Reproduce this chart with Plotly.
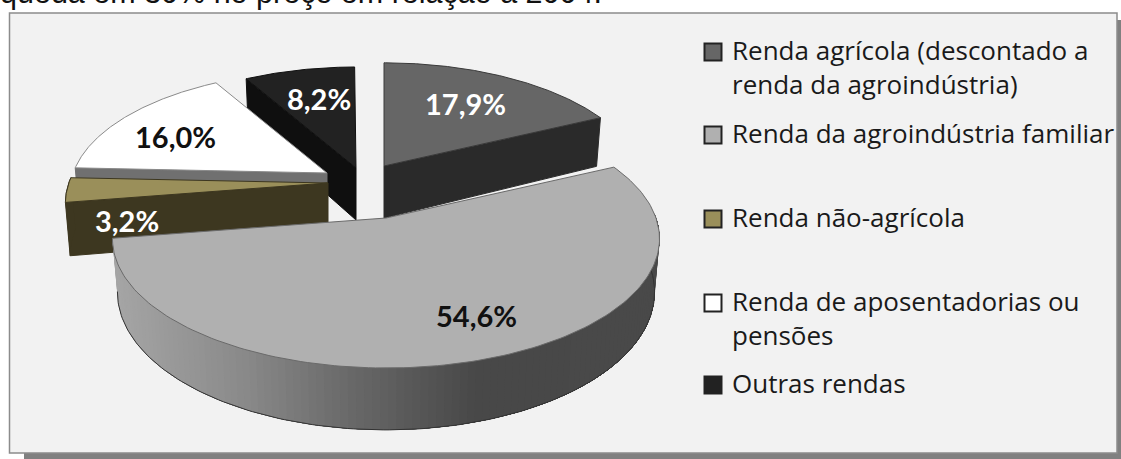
import numpy as np
import plotly.graph_objects as go

# Income shares, clockwise from twelve o'clock
categories = [
    "Renda agrícola (descontado a<br>renda da agroindústria)",
    "Renda da agroindústria familiar",
    "Renda não-agrícola",
    "Renda de aposentadorias ou<br>pensões",
    "Outras rendas",
]
shares = [17.9, 54.6, 3.2, 16.0, 8.2]

top_colors = ["#666666", "#b0b0b0", "#9a8f5a", "#ffffff", "#222222"]
wall_colors = ["#2a2a2a", None, "#3d3720", "#707070", "#0f0f0f"]
edge_colors = ["#3a3a3a", "#6a6a6a", "#3d3720", "#8a8a8a", "#111111"]
label_colors = ["white", "#111111", "white", "#111111", "white"]

# Exploded hub of each slice and its radius factor, in drawing units
hub_x = [384, 386, 328, 327, 356]
hub_y = [166, 218, 183, 173, 168]
radius_factor = [0.95, 1.0, 0.96, 0.94, 0.93]
label_x = [465, 476, 127, 175, 319]
label_y = [103, 315, 220, 136, 98]
legend_y = [52, 135, 219, 303, 385]

# Tilted-disc projection parameters
SX, SY, PERSP, DEPTH, BOTTOM_SHRINK = 270, 126, 0.16, 52, 0.018


def project(theta, idx, z=0.0):
    """Map a rim angle (degrees, clockwise from the back) to drawing units."""
    t = np.radians(theta)
    f = radius_factor[idx]
    s = 1 / (1 + PERSP * np.cos(t))
    x = f * SX * np.sin(t) * s * (1 - BOTTOM_SHRINK * z)
    y = -f * SY * np.cos(t) * s + DEPTH * s * z
    return hub_x[idx] + x, hub_y[idx] + y


def hub_point(idx, z=0.0):
    return hub_x[idx], hub_y[idx] + DEPTH * z


def polygon(xs, ys, fill, line=None, width=1.0):
    return go.Scatter(
        x=list(xs), y=list(ys), mode="lines", fill="toself", fillcolor=fill,
        line=dict(color=line or fill, width=width),
        hoverinfo="skip", showlegend=False,
    )


def radial_wall(angle, idx):
    hx0, hy0 = hub_point(idx, 0)
    hx1, hy1 = hub_point(idx, 1)
    rx0, ry0 = project(angle, idx, 0)
    rx1, ry1 = project(angle, idx, 1)
    return polygon([hx0, rx0, rx1, hx1, hx0], [hy0, ry0, ry1, hy1, hy0], wall_colors[idx])


def top_face(a0, a1, idx, width=1.0):
    th = np.linspace(a0, a1, 160)
    x, y = project(th, idx)
    hx, hy = hub_point(idx)
    return polygon(np.r_[hx, x, hx], np.r_[hy, y, hy], top_colors[idx], edge_colors[idx], width)


def wall_gray(x):
    # Cylinder shading of the big slice, light on the left, dark on the right
    return int(np.interp(x, [113, 243, 347, 477, 660], [166, 138, 106, 72, 74]))


bounds = np.r_[0, np.cumsum(shares)] * 3.6
fig = go.Figure()

# Frame drop shadow, panel and hairline border are layout shapes
shapes = [
    dict(type="rect", x0=24, y0=20, x1=1121, y1=459, fillcolor="#808080", line_width=0, layer="below"),
    dict(type="rect", x0=9.5, y0=13, x1=1117, y1=453, fillcolor="#f2f2f2",
         line=dict(color="#8c8c8c", width=1.5), layer="below"),
]

# Back slices first, the large front slice last
order = [0, 4, 3, 2]
for i in order:
    a0, a1 = bounds[i], bounds[i + 1]
    if i == 0:
        fig.add_trace(radial_wall(a1, i))
    elif i == 2:
        fig.add_trace(radial_wall(a0, i))
        th = np.linspace(a0, a1, 20)
        xt, yt = project(th, i, 0)
        xb, yb = project(th[::-1], i, 1)
        fig.add_trace(polygon(np.r_[xt, xb], np.r_[yt, yb], wall_colors[i]))
    else:
        fig.add_trace(radial_wall(a0, i))
    fig.add_trace(top_face(a0, a1, i))

# Large slice: shaded outer wall. Each strip runs from its own edge back to the
# start of the arc, so later strips only ever paint over earlier ones
i = 1
edges = np.linspace(88, bounds[2], 120)
for k in range(len(edges) - 1, 0, -1):
    a, b = edges[k - 1], edges[k]
    xa0, _ = project(a, i, 0)
    xb0, _ = project(b, i, 0)
    g = wall_gray((xa0 + xb0) / 2)
    th = np.linspace(edges[0], b, 60)
    xt, yt = project(th, i, 0)
    xb, yb = project(th[::-1], i, 1)
    fig.add_trace(go.Scatter(
        x=np.r_[xt, xb], y=np.r_[yt, yb], mode="lines", fill="toself",
        fillcolor=f"rgb({g},{g},{g})", line=dict(width=0),
        hoverinfo="skip", showlegend=False,
    ))

# Dark line along the lower rim of the wall
th = np.linspace(88, bounds[2], 160)
xb, yb = project(th, i, 1)
fig.add_trace(go.Scatter(x=xb, y=yb, mode="lines", line=dict(color="#333333", width=1),
                         hoverinfo="skip", showlegend=False))
fig.add_trace(top_face(bounds[1], bounds[2], i, width=1))

# Legend swatches
fig.add_trace(go.Scatter(
    x=[713] * len(categories), y=legend_y, mode="markers",
    marker=dict(symbol="square", size=17, color=top_colors,
                line=dict(color="#222222", width=2)),
    hoverinfo="skip", showlegend=False,
))

# Last line of the running text above the panel
fig.add_trace(go.Scatter(
    x=[0], y=[11], mode="text", text=["queda em 30% no preço em relação a 2004."],
    textposition="top right", cliponaxis=False,
    textfont=dict(family="Liberation Sans", size=30.5, color="#111111"),
    hoverinfo="skip", showlegend=False,
))

annotations = []
# Value labels on the slices
for v, x, y, c in zip(shares, label_x, label_y, label_colors):
    annotations.append(dict(
        x=x, y=y, text=f"{v:.1f}%".replace(".", ","), showarrow=False,
        font=dict(family="Lato", size=29, color=c, weight="bold"),
        xanchor="center", yanchor="middle",
    ))
# Legend text
for name, y in zip(categories, legend_y):
    annotations.append(dict(
        x=730, y=y - 22, text=name, showarrow=False, align="left",
        font=dict(family="Open Sans", size=26, color="#1a1a1a"),
        xanchor="left", yanchor="top",
    ))

fig.update_layout(
    width=1121, height=459, margin=dict(l=0, r=0, t=0, b=0), autosize=False,
    paper_bgcolor="white", plot_bgcolor="white", showlegend=False,
    xaxis=dict(range=[0, 1121], visible=False, fixedrange=True),
    yaxis=dict(range=[459, 0], visible=False, fixedrange=True),
    shapes=shapes, annotations=annotations,
)
fig.write_html("out.html")
